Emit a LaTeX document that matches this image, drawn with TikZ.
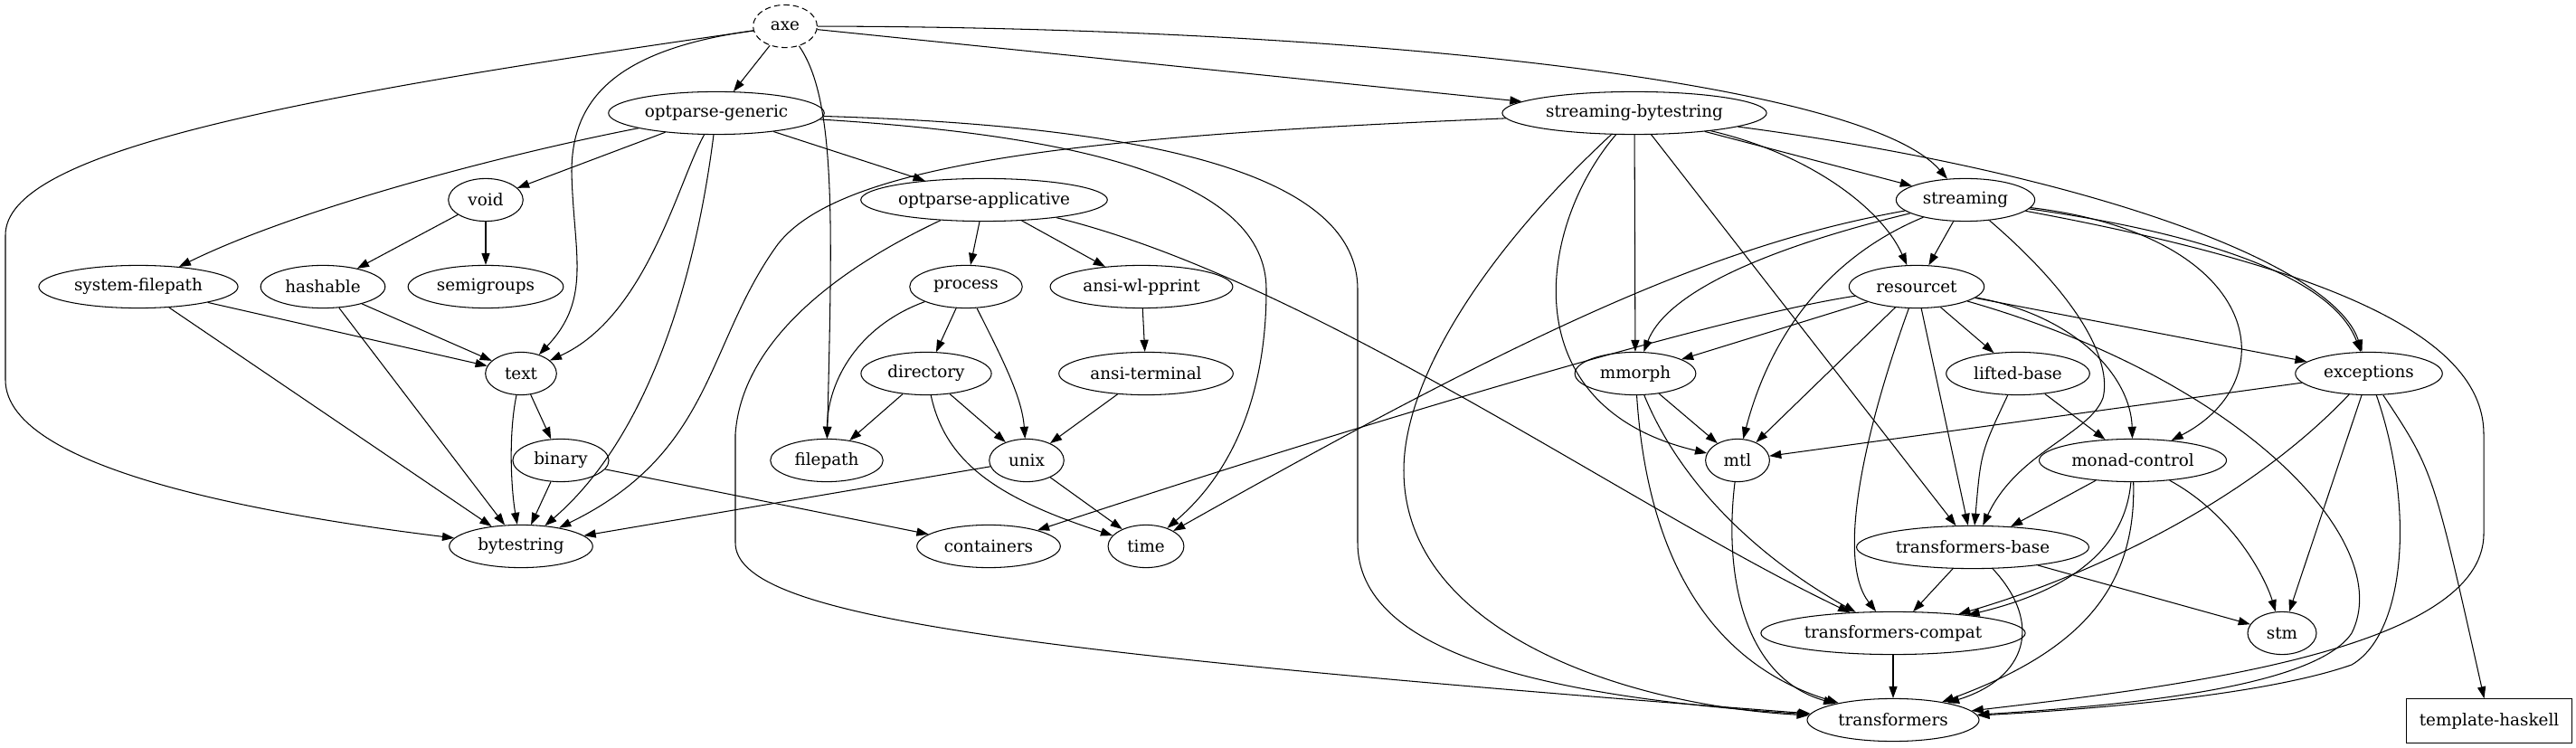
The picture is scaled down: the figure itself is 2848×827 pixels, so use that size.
\documentclass[tikz,border=0pt]{standalone}
\usepackage{fontspec}
\setmainfont{DejaVu Serif}
\usetikzlibrary{arrows.meta, shapes.geometric}

\begin{document}
\begin{tikzpicture}[
x=0.763pt, y=-0.763pt,
font=\fontsize{14pt}{17pt}\selectfont,
>={Triangle[length=10pt, width=7pt]},
pkg/.style={
ellipse, draw, line width=0.8pt,
inner sep=0pt,
minimum height=36pt
},
rootpkg/.style={
pkg, dash pattern=on 5pt off 3pt
},
boxpkg/.style={
rectangle, draw, line width=0.8pt,
inner sep=0pt,
minimum height=37pt
},
arrow/.style={->, line width=0.8pt}
]

\useasboundingbox (0,0) rectangle (2848,827);

\node[rootpkg, minimum width=54pt] (axe) at (868,29) {axe};

\node[pkg, minimum width=182pt] (optGeneric) at (792,125) {optparse-generic};
\node[pkg, minimum width=223pt] (streamBytes) at (1807,125) {streaming-bytestring};

\node[pkg, minimum width=63pt] (void) at (537,221) {void};
\node[pkg, minimum width=208pt] (optApplicative) at (1088,221) {optparse-applicative};
\node[pkg, minimum width=117pt] (streaming) at (2173,221) {streaming};

\node[pkg, minimum width=168pt] (sysFilepath) at (153,317) {system-filepath};
\node[pkg, minimum width=105pt] (hashable) at (357,317) {hashable};
\node[pkg, minimum width=131pt] (semigroups) at (537,317) {semigroups};
\node[pkg, minimum width=95pt] (process) at (1068,317) {process};
\node[pkg, minimum width=154pt] (ansiPprint) at (1262,317) {ansi-wl-pprint};
\node[pkg, minimum width=114pt] (resourcet) at (2119,317) {resourcet};

\node[pkg, minimum width=60pt] (text) at (576,413) {text};
\node[pkg, minimum width=110pt] (directory) at (1024,413) {directory};
\node[pkg, minimum width=147pt] (ansiTerminal) at (1267,413) {ansi-terminal};
\node[pkg, minimum width=102pt] (mmorph) at (1808,413) {mmorph};
\node[pkg, minimum width=121pt] (liftedBase) at (2231,413) {lifted-base};
\node[pkg, minimum width=124pt] (exceptions) at (2619,413) {exceptions};

\node[pkg, minimum width=81pt] (binary) at (620,509) {binary};
\node[pkg, minimum width=95pt] (filepath) at (914,509) {filepath};
\node[pkg, minimum width=63pt] (unix) at (1135,509) {unix};
\node[pkg, minimum width=54pt] (mtl) at (1921,509) {mtl};
\node[pkg, minimum width=158pt] (monadControl) at (2358,509) {monad-control};

\node[pkg, minimum width=121pt] (bytestring) at (576,604) {bytestring};
\node[pkg, minimum width=121pt] (containers) at (1093,604) {containers};
\node[pkg, minimum width=64pt] (time) at (1267,604) {time};
\node[pkg, minimum width=196pt] (transBase) at (2181,605) {transformers-base};

\node[pkg, minimum width=223pt] (transCompat) at (2093,700) {transformers-compat};
\node[pkg, minimum width=58pt] (stm) at (2523,700) {stm};

\node[pkg, minimum width=145pt] (transformers) at (2093,796) {transformers};
\node[boxpkg, minimum width=139pt] (templateHaskell) at (2752,797) {template-haskell};

\draw[arrow] (axe) .. controls (300,110) and (6,170) .. (6,260) -- (6,420) .. controls (6,520) and (300,570) .. (bytestring);
\draw[arrow] (axe) .. controls (680,55) and (632,110) .. (632,190) .. controls (634,280) and (655,330) .. (text);
\draw[arrow] (axe) -- (optGeneric);
\draw[arrow] (axe) .. controls (925,110) and (920,250) .. (filepath);
\draw[arrow] (axe) -- (streamBytes);
\draw[arrow] (axe) .. controls (1500,30) and (2060,90) .. (streaming);

\draw[arrow] (optGeneric) -- (void);
\draw[arrow] (optGeneric) .. controls (560,170) and (330,230) .. (sysFilepath);
\draw[arrow] (optGeneric) .. controls (750,200) and (715,350) .. (text);
\draw[arrow] (optGeneric) .. controls (770,300) and (720,480) .. (bytestring);
\draw[arrow] (optGeneric) -- (optApplicative);
\draw[arrow] (optGeneric) .. controls (1200,150) and (1400,200) .. (1400,320) .. controls (1400,480) and (1330,550) .. (time);
\draw[arrow] (optGeneric) .. controls (1300,140) and (1501,200) .. (1501,320) -- (1501,600) .. controls (1501,720) and (1700,770) .. (transformers);

\draw[arrow] (void) -- (hashable);
\draw[arrow] (void) -- (semigroups);

\draw[arrow] (sysFilepath) -- (text);
\draw[arrow] (sysFilepath) -- (bytestring);
\draw[arrow] (hashable) -- (text);
\draw[arrow] (hashable) -- (bytestring);
\draw[arrow] (text) -- (binary);
\draw[arrow] (text) .. controls (562,480) and (565,540) .. (bytestring);
\draw[arrow] (binary) -- (bytestring);
\draw[arrow] (binary) -- (containers);

\draw[arrow] (optApplicative) -- (process);
\draw[arrow] (optApplicative) -- (ansiPprint);
\draw[arrow] (optApplicative) .. controls (1450,310) and (1800,560) .. (transCompat);
\draw[arrow] (optApplicative) .. controls (920,300) and (820,380) .. (813,480) -- (813,600) .. controls (813,680) and (1100,720) .. (transformers);

\draw[arrow] (process) -- (directory);
\draw[arrow] (process) .. controls (1110,400) and (1130,440) .. (unix);
\draw[arrow] (process) .. controls (950,360) and (915,420) .. (filepath);
\draw[arrow] (ansiPprint) -- (ansiTerminal);
\draw[arrow] (ansiTerminal) -- (unix);
\draw[arrow] (directory) -- (filepath);
\draw[arrow] (directory) -- (unix);
\draw[arrow] (directory) .. controls (1045,510) and (1100,550) .. (time);
\draw[arrow] (unix) -- (bytestring);
\draw[arrow] (unix) -- (time);

\draw[arrow] (streamBytes) .. controls (1200,150) and (930,180) .. (860,270) .. controls (780,380) and (790,500) .. (bytestring);
\draw[arrow] (streamBytes) -- (streaming);
\draw[arrow] (streamBytes) .. controls (2000,170) and (2080,230) .. (resourcet);
\draw[arrow] (streamBytes) .. controls (2300,190) and (2580,290) .. (exceptions);
\draw[arrow] (streamBytes) -- (mmorph);
\draw[arrow] (streamBytes) .. controls (1700,250) and (1670,450) .. (mtl);
\draw[arrow] (streamBytes) -- (transBase);
\draw[arrow] (streamBytes) .. controls (1640,280) and (1552,420) .. (1552,520) .. controls (1552,700) and (1800,780) .. (transformers);

\draw[arrow] (streaming) -- (resourcet);
\draw[arrow] (streaming) .. controls (1900,270) and (1700,360) .. (time);
\draw[arrow] (streaming) .. controls (1930,280) and (1840,330) .. (mmorph);
\draw[arrow] (streaming) .. controls (2030,280) and (1960,360) .. (mtl);
\draw[arrow] (streaming) .. controls (2300,330) and (2335,400) .. (2325,440) .. controls (2310,480) and (2230,500) .. (transBase);
\draw[arrow] (streaming) .. controls (2500,260) and (2530,420) .. (monadControl);
\draw[arrow] (streaming) .. controls (2450,260) and (2580,310) .. (exceptions);
\draw[arrow] (streaming) .. controls (2600,300) and (2746,380) .. (2746,480) -- (2746,590) .. controls (2746,720) and (2400,760) .. (transformers);

\draw[arrow] (resourcet) .. controls (1900,350) and (1500,470) .. (containers);
\draw[arrow] (resourcet) -- (mmorph);
\draw[arrow] (resourcet) -- (mtl);
\draw[arrow] (resourcet) -- (liftedBase);
\draw[arrow] (resourcet) -- (transBase);
\draw[arrow] (resourcet) .. controls (2060,480) and (2030,620) .. (transCompat);
\draw[arrow] (resourcet) .. controls (2300,350) and (2356,420) .. (monadControl);
\draw[arrow] (resourcet) -- (exceptions);
\draw[arrow] (resourcet) .. controls (2480,420) and (2650,600) .. (2600,700) .. controls (2560,760) and (2350,780) .. (transformers);

\draw[arrow] (mmorph) -- (mtl);
\draw[arrow] (mmorph) .. controls (1860,540) and (1950,620) .. (transCompat);
\draw[arrow] (mmorph) .. controls (1820,600) and (1880,730) .. (transformers);

\draw[arrow] (liftedBase) .. controls (2190,500) .. (transBase);
\draw[arrow] (liftedBase) -- (monadControl);

\draw[arrow] (exceptions) -- (mtl);
\draw[arrow] (exceptions) .. controls (2480,560) and (2300,640) .. (transCompat);
\draw[arrow] (exceptions) -- (stm);
\draw[arrow] (exceptions) .. controls (2670,560) and (2660,700) .. (2600,735) .. controls (2500,770) and (2300,785) .. (transformers);
\draw[arrow] (exceptions) .. controls (2690,520) .. (templateHaskell);

\draw[arrow] (mtl) .. controls (1905,640) and (1930,750) .. (transformers);

\draw[arrow] (monadControl) -- (transBase);
\draw[arrow] (monadControl) .. controls (2350,600) and (2300,650) .. (transCompat);
\draw[arrow] (monadControl) .. controls (2362,650) and (2300,720) .. (transformers);
\draw[arrow] (monadControl) .. controls (2470,570) and (2505,640) .. (stm);

\draw[arrow] (transBase) -- (transCompat);
\draw[arrow] (transBase) -- (stm);
\draw[arrow] (transBase) .. controls (2260,690) and (2240,750) .. (transformers);

\draw[arrow] (transCompat) -- (transformers);

\end{tikzpicture}
\end{document}
